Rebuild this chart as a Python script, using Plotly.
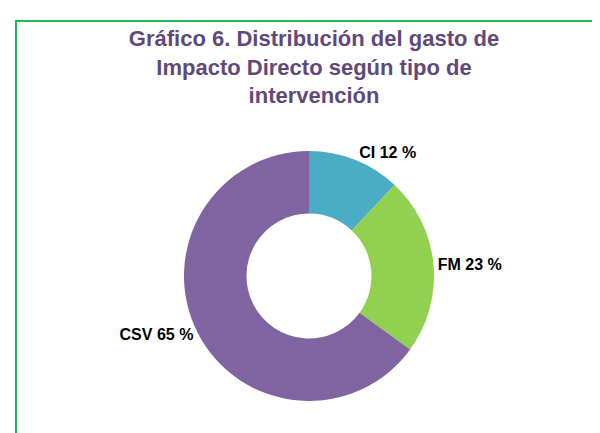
import plotly.graph_objects as go

categories = ["CI", "FM", "CSV"]
values = [12, 23, 65]
colors = ["#4BACC6", "#92D050", "#8064A2"]
title_text = "Gráfico 6. Distribución del gasto de<br>Impacto Directo según tipo de<br>intervención"

W, H = 600, 433
cx, cy, r = 301, 268, 125

fig = go.Figure(go.Pie(
    labels=categories,
    values=values,
    marker=dict(colors=colors, line=dict(width=0)),
    hole=0.5,
    sort=False,
    direction="clockwise",
    rotation=0,
    textposition="outside",
    texttemplate="%{label} %{value} %",
    textfont=dict(family="Liberation Sans, Arial", size=16, color="#000000", weight="bold"),
    domain=dict(x=[(cx - r) / W, (cx + r) / W], y=[(H - cy - r) / H, (H - cy + r) / H]),
    showlegend=False,
    hoverinfo="label+percent",
))

fig.update_layout(
    width=W, height=H,
    margin=dict(l=0, r=0, t=0, b=0),
    paper_bgcolor="white",
    plot_bgcolor="white",
    title=dict(
        text=title_text,
        x=306 / W, xanchor="center",
        y=(H - 38) / H, yanchor="top",
        font=dict(family="Liberation Sans, Arial", size=22, color="#5F497A", weight="bold"),
    ),
    shapes=[dict(
        type="rect", xref="paper", yref="paper",
        x0=8 / W, x1=1.05, y0=-0.05, y1=(H - 13) / H,
        line=dict(color="#1DB954", width=2),
    )],
)

fig.write_html("out.html")
